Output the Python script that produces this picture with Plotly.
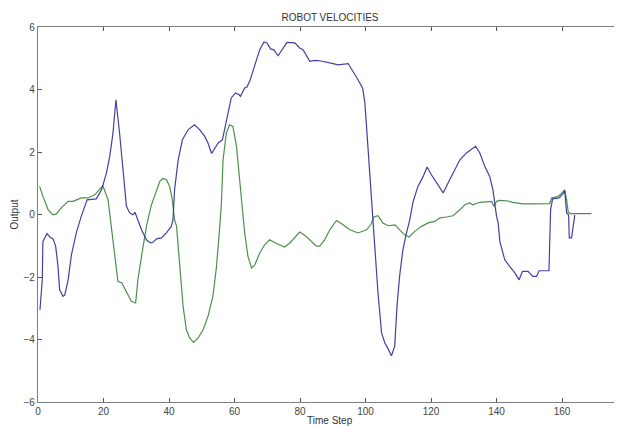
import plotly.graph_objects as go

# Blue series (time step, output)
blue_t = [0.6, 1.3, 1.5, 2.75, 3.6, 4.6, 5.4, 6.1, 6.6, 7.6, 8.2, 9.2, 10.2, 11.7, 13.2, 14.6, 15.0,
          17.8, 19.4, 20.9, 21.9, 22.9, 23.8, 24.9, 26.0, 27.0, 28.0, 29.0, 29.6, 30.5, 31.6, 33.1,
          34.3, 35.1, 36.2, 37.7, 39.2, 40.7, 41.2, 41.7, 42.8, 44.1, 45.8, 47.8, 49.4, 50.9, 51.9,
          53.0, 54.0, 55.0, 56.3, 57.5, 59.0, 60.3, 61.4, 61.8, 63.1, 63.8, 64.8, 66.7, 67.7, 69.0,
          69.9, 71.0, 72.0, 73.3, 75.3, 76.0, 78.4, 79.9, 80.9, 83.0, 84.5, 86.0, 90.1, 91.6, 94.7,
          96.2, 97.7, 99.1, 99.8, 100.3, 101.0, 101.8, 102.1, 102.8, 103.8, 104.9, 105.9, 106.9,
          107.9, 108.9, 109.6, 110.4, 111.4, 112.5, 113.5, 114.5, 116.0, 117.6, 118.8, 120.1, 122.1,
          123.7, 125.2, 127.2, 128.8, 130.8, 132.3, 133.6, 134.9, 136.4, 137.9, 138.9, 140.0, 140.5,
          141.0, 142.5, 144.0, 145.6, 146.9, 147.9, 149.6, 151.1, 152.2, 153.0, 156.0, 156.5, 157.1,
          159.1, 160.3, 160.8, 161.4, 162.0, 162.2, 162.9, 163.9]
blue_v = [-3.05, -2.09, -0.86, -0.61, -0.72, -0.78, -1.02, -1.66, -2.41, -2.62, -2.57, -2.09, -1.29,
          -0.59, -0.06, 0.37, 0.47, 0.50, 0.79, 1.33, 1.86, 2.61, 3.67, 2.61, 1.33, 0.26, 0.05, -0.01,
          0.07, -0.17, -0.49, -0.81, -0.91, -0.89, -0.78, -0.75, -0.59, -0.38, -0.17, 0.79, 1.75,
          2.39, 2.71, 2.87, 2.71, 2.50, 2.29, 1.95, 2.10, 2.29, 2.39, 3.03, 3.73, 3.89, 3.83, 3.78,
          4.05, 4.08, 4.31, 4.95, 5.27, 5.52, 5.49, 5.30, 5.27, 5.08, 5.43, 5.51, 5.49, 5.33, 5.27,
          4.90, 4.93, 4.92, 4.83, 4.79, 4.83, 4.58, 4.31, 4.05, 3.57, 2.82, 1.75, 0.47, 0.05, -1.13,
          -2.51, -3.79, -4.11, -4.30, -4.52, -4.22, -2.94, -1.98, -1.13, -0.59, -0.17, 0.40, 0.90,
          1.22, 1.52, 1.27, 0.95, 0.69, 1.01, 1.43, 1.75, 1.97, 2.07, 2.18, 1.97, 1.54, 1.22, 0.79,
          -0.06, -0.27, -0.86, -1.45, -1.66, -1.87, -2.09, -1.82, -1.82, -1.98, -1.98, -1.80, -1.80,
          0.15, 0.50, 0.53, 0.67, 0.77, 0.05, -0.01, -0.75, -0.75, -0.01]

# Green series (time step, output)
green_t = [0.5, 1.5, 3.1, 4.6, 5.6, 7.1, 9.2, 10.7, 13.2, 15.3, 17.3, 18.8, 19.8, 21.4, 22.4, 23.4,
           24.4, 25.6, 27.0, 28.5, 29.8, 30.5, 31.6, 33.1, 34.6, 36.2, 37.2, 38.2, 39.2, 40.2, 41.0,
           41.7, 42.3, 43.3, 44.3, 45.3, 46.3, 47.5, 48.9, 50.4, 51.9, 53.4, 54.5, 55.5, 56.0, 56.5,
           57.5, 58.5, 59.5, 60.6, 61.6, 62.6, 63.1, 64.1, 65.2, 66.2, 67.7, 69.2, 70.7, 72.8, 75.3,
           76.9, 78.4, 79.9, 81.4, 83.5, 85.0, 86.0, 87.5, 89.1, 91.1, 92.6, 95.2, 97.7, 100.3, 101.6,
           102.5, 103.8, 105.3, 106.9, 109.0, 110.4, 112.0, 113.3, 115.0, 117.1, 119.1, 121.1, 122.7,
           124.7, 126.7, 128.8, 130.3, 131.8, 132.8, 134.9, 136.9, 138.5, 139.2, 140.0, 141.0, 143.0,
           145.0, 148.1, 151.1, 156.2, 156.8, 158.8, 160.1, 160.8, 161.4, 161.9, 162.6, 169.0]
green_v = [0.90, 0.58, 0.15, -0.01, 0.02, 0.21, 0.42, 0.42, 0.53, 0.53, 0.63, 0.79, 0.92, 0.47, -0.38,
           -1.34, -2.14, -2.19, -2.46, -2.78, -2.83, -2.09, -1.34, -0.38, 0.30, 0.79, 1.06, 1.15, 1.11,
           0.90, 0.47, -0.17, -0.38, -1.66, -2.94, -3.69, -3.95, -4.09, -3.95, -3.69, -3.26, -2.62,
           -1.66, -0.38, 0.37, 1.75, 2.61, 2.87, 2.82, 2.18, 1.11, 0.05, -0.59, -1.34, -1.71, -1.61,
           -1.23, -0.97, -0.81, -0.93, -1.04, -0.91, -0.75, -0.56, -0.66, -0.86, -1.01, -1.01, -0.81,
           -0.49, -0.19, -0.29, -0.49, -0.59, -0.49, -0.33, -0.08, -0.04, -0.27, -0.36, -0.33, -0.49,
           -0.65, -0.72, -0.54, -0.38, -0.27, -0.22, -0.11, -0.08, -0.04, 0.15, 0.31, 0.37, 0.31, 0.39,
           0.42, 0.42, 0.26, 0.42, 0.45, 0.44, 0.39, 0.34, 0.34, 0.35, 0.53, 0.58, 0.71, 0.79, 0.47,
           0.07, 0.03, 0.03]

x_ticks = [0, 20, 40, 60, 80, 100, 120, 140, 160, 180]
y_ticks = [-6, -4, -2, 0, 2, 4, 6]

FONT = "Liberation Sans, Arial"

fig = go.Figure()
fig.add_trace(go.Scatter(x=green_t, y=green_v, mode="lines",
                         line=dict(color="rgb(75,145,75)", width=1.2), showlegend=False))
fig.add_trace(go.Scatter(x=blue_t, y=blue_v, mode="lines",
                         line=dict(color="rgb(65,65,165)", width=1.2), showlegend=False))

axis_common = dict(showgrid=False, zeroline=False, showline=True, linecolor="#7f7f7f",
                   linewidth=1.2, ticks="inside", ticklen=4, tickcolor="#555555",
                   automargin=False,
                   tickfont=dict(family=FONT, size=10, color="#444444"))

# page body has an 8px margin, so the figure is 8px smaller than the window
fig.update_layout(
    template="none",
    width=614, height=418,
    margin=dict(l=30, r=0, t=19, b=24, autoexpand=False),
    paper_bgcolor="white", plot_bgcolor="white",
    title=dict(text="ROBOT VELOCITIES", x=0.5, xref="paper", y=1 - 9 / 418, yref="container",
               xanchor="center", yanchor="middle", automargin=False,
               font=dict(family=FONT, size=10, color="#333333")),
    font=dict(family=FONT, size=10, color="#333333"),
    annotations=[
        dict(text="Time Step", xref="paper", yref="paper", x=0.5, y=-18 / 375,
             xanchor="center", yanchor="middle", showarrow=False,
             font=dict(family=FONT, size=10, color="#333333")),
        dict(text="Output", xref="paper", yref="paper", x=-24 / 584, y=0.5,
             xanchor="center", yanchor="middle", textangle=-90, showarrow=False,
             font=dict(family=FONT, size=10, color="#333333")),
    ],
)
fig.update_xaxes(range=[0, 178.3], tickvals=x_ticks, mirror="ticks", **axis_common)
fig.update_yaxes(range=[-6, 6], tickvals=y_ticks, **axis_common)

fig.write_html("out.html")
